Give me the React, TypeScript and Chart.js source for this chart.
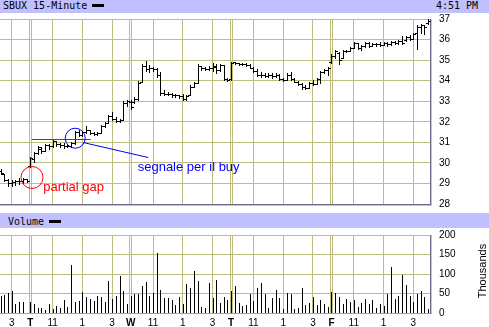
import React, { useEffect, useRef } from 'react';
import { Chart, registerables } from 'chart.js';

Chart.register(...registerables);

// ---------------- data ----------------
// 15-minute bars, [open, high, low, close]; Monday starts at its 14:15 bar
const mondayBars = [
  [29.6, 29.72, 29.45, 29.5], [29.45, 29.48, 29.1, 29.15], [29.15, 29.22, 28.9, 29.0], [29.0, 29.15, 28.88, 29.05],
  [29.05, 29.18, 28.92, 29.1], [29.1, 29.25, 28.98, 29.1], [29.1, 29.28, 29.0, 29.2], [29.2, 29.22, 29.05, 29.12],
];
const tuesdayBars = [
  [29.85, 30.3, 29.82, 30.25], [30.2, 30.55, 30.05, 30.5], [30.5, 30.8, 30.45, 30.75], [30.7, 30.78, 30.5, 30.6],
  [30.6, 30.92, 30.58, 30.85], [30.85, 30.9, 30.7, 30.8], [30.8, 31.15, 30.78, 31.05], [31.05, 31.08, 30.82, 30.9],
  [30.9, 30.95, 30.78, 30.85], [30.85, 30.95, 30.72, 30.8], [30.8, 30.92, 30.75, 30.8], [30.8, 31.0, 30.75, 30.95],
  [30.95, 31.55, 30.9, 31.5], [31.5, 31.6, 31.3, 31.35], [31.35, 31.55, 31.3, 31.5], [31.5, 31.78, 31.45, 31.6],
  [31.6, 31.62, 31.42, 31.45], [31.45, 31.52, 31.38, 31.4], [31.4, 31.48, 31.38, 31.45], [31.45, 31.85, 31.45, 31.8],
  [31.8, 32.0, 31.75, 31.95], [31.95, 32.35, 31.92, 32.3], [32.3, 32.5, 32.1, 32.15], [32.15, 32.22, 32.0, 32.05],
  [32.05, 32.15, 31.98, 32.1], [32.1, 33.0, 32.1, 32.9], [32.9, 33.08, 32.75, 33.0],
];
const wednesdayBars = [
  [32.95, 33.08, 32.6, 32.7], [32.95, 33.2, 32.9, 33.1], [33.1, 34.0, 33.05, 33.9], [33.95, 34.8, 33.95, 34.7],
  [34.7, 34.95, 34.45, 34.55], [34.55, 34.78, 34.4, 34.6], [34.6, 34.68, 34.48, 34.55], [34.55, 34.62, 34.2, 34.3],
  [34.3, 34.4, 33.3, 33.4], [33.4, 33.55, 33.3, 33.35], [33.35, 33.45, 33.3, 33.35], [33.35, 33.4, 33.22, 33.3],
  [33.3, 33.35, 33.2, 33.28], [33.28, 33.32, 33.15, 33.25], [33.25, 33.35, 33.05, 33.1], [33.1, 33.3, 33.05, 33.25],
  [33.3, 33.8, 33.3, 33.7], [33.7, 33.95, 33.7, 33.9], [33.9, 34.8, 33.88, 34.7], [34.7, 34.72, 34.5, 34.6],
  [34.6, 34.65, 34.52, 34.55], [34.55, 34.7, 34.5, 34.6], [34.6, 34.85, 34.45, 34.7], [34.65, 34.8, 34.38, 34.5],
  [34.5, 34.82, 34.45, 34.75], [34.75, 34.78, 34.05, 34.1], [34.1, 34.12, 34.0, 34.05],
];
const thursdayBars = [
  [34.1, 34.92, 34.05, 34.88], [34.9, 34.92, 34.8, 34.85], [34.85, 34.88, 34.75, 34.8], [34.8, 34.88, 34.75, 34.82],
  [34.82, 34.85, 34.7, 34.75], [34.75, 34.8, 34.6, 34.62], [34.62, 34.65, 34.42, 34.45], [34.45, 34.55, 34.25, 34.3],
  [34.3, 34.4, 34.2, 34.28], [34.28, 34.35, 34.2, 34.25], [34.25, 34.35, 34.2, 34.3], [34.3, 34.35, 34.15, 34.22],
  [34.22, 34.35, 34.2, 34.28], [34.28, 34.32, 34.05, 34.1], [34.1, 34.15, 34.0, 34.05], [34.05, 34.38, 34.02, 34.3],
  [34.3, 34.4, 34.05, 34.1], [34.1, 34.12, 33.92, 33.95], [33.95, 33.98, 33.8, 33.85], [33.85, 33.88, 33.6, 33.7],
  [33.7, 33.8, 33.6, 33.65], [33.65, 33.95, 33.62, 33.9], [33.9, 34.02, 33.8, 33.85], [33.85, 34.15, 33.82, 34.1],
  [34.1, 34.45, 33.9, 34.4], [34.4, 34.58, 34.38, 34.5], [34.5, 34.68, 34.3, 34.6],
];
const fridayBars = [
  [34.9, 35.28, 34.85, 35.2], [35.2, 35.5, 35.1, 35.45], [35.35, 35.38, 34.8, 35.0], [35.1, 35.5, 35.08, 35.45],
  [35.45, 35.5, 35.4, 35.45], [35.45, 35.65, 35.45, 35.6], [35.6, 35.9, 35.6, 35.85], [35.85, 35.85, 35.55, 35.6],
  [35.6, 35.75, 35.5, 35.7], [35.7, 35.9, 35.65, 35.85], [35.85, 35.88, 35.65, 35.7], [35.7, 35.82, 35.7, 35.78],
  [35.78, 35.85, 35.7, 35.8], [35.8, 35.86, 35.7, 35.75], [35.75, 35.9, 35.75, 35.85], [35.85, 35.86, 35.7, 35.78],
  [35.78, 35.95, 35.75, 35.9], [35.9, 35.95, 35.8, 35.85], [35.85, 36.0, 35.8, 35.95], [35.95, 36.15, 35.8, 35.85],
  [36.0, 36.15, 35.95, 36.1], [36.1, 36.2, 36.0, 36.05], [36.05, 36.3, 36.05, 36.25], [36.3, 36.72, 35.55, 36.6],
  [36.6, 36.75, 36.3, 36.7], [36.7, 36.72, 36.28, 36.6], [36.8, 37.0, 36.78, 36.92],
];

// volume, thousands of shares
const mondayVolume = [44, 45, 51, 57, 22, 28, 28, 0];
const tuesdayVolume = [28, 22, 12, 12, 7, 22, 9, 17, 12, 33, 15, 123, 28, 30, 53, 41, 35, 30, 43, 41, 28, 82, 35, 43, 95, 56, 22];
const wednesdayVolume = [43, 48, 48, 69, 80, 43, 51, 155, 59, 38, 38, 33, 20, 41, 22, 74, 64, 108, 82, 15, 12, 77, 38, 85, 25, 41, 33];
const thursdayVolume = [56, 69, 25, 17, 20, 48, 31, 64, 77, 48, 12, 38, 59, 38, 10, 51, 48, 10, 12, 64, 20, 25, 41, 20, 33, 22, 15];
const fridayVolume = [54, 51, 41, 22, 35, 28, 33, 15, 25, 35, 22, 33, 12, 22, 17, 48, 119, 35, 43, 98, 72, 43, 28, 48, 56, 41, 10];

// time axis: 27 fifteen-minute slots per session, slot 0 = Monday 9:30
const firstBarSlot = 19;
const sessionLetters = ['M', 'T', 'W', 'T', 'F'];
const sessionFirstSlots = [0, 27, 54, 81, 108];
const hourLabels = ['11', '1', '3'];
const hourSlotOffsets = [6, 14, 22];
const xMin = 18.85;
const xMax = 134.49;

const priceMin = 28;
const priceMax = 37;
const priceStep = 1;
const volumeMin = 0;
const volumeMax = 200;
const volumeStep = 50;

// annotations (data coordinates: slot, price)
const gapCircle = { slot: 27.46, price: 29.29 };
const resistanceLine = { fromSlot: 27.38, toSlot: 43.25, price: 31.17 };
const signalCircle = { slot: 39.08, price: 31.2 };
const signalPointer = { fromSlot: 41.25, fromPrice: 30.99, toSlot: 58.74, toPrice: 30.26 };
const gapLabel = { text: 'partial gap', slot: 30.5, price: 28.83 };
const signalLabel = { text: 'segnale per il buy', slot: 55.88, price: 29.76 };

// ---------------- styles ----------------
const FONT = "'Liberation Sans', Arial, sans-serif";
const MONO = "'DejaVu Sans Mono', monospace";
const GRID = '#bdbd80';
const FRAME = '#6a6a8c';
const LAVENDER = '#c0c0ff';
const VOL_BASE = '#9a9ae0';
const RED = '#ff0000';
const BLUE = '#0000ff';

const allBars = [...mondayBars, ...tuesdayBars, ...wednesdayBars, ...thursdayBars, ...fridayBars];
const allVolume = [...mondayVolume, ...tuesdayVolume, ...wednesdayVolume, ...thursdayVolume, ...fridayVolume];

type TickDef = { value: number; label: string; grid: boolean; bold: boolean };
const tickDefs: TickDef[] = [];
sessionFirstSlots.forEach((s, d) => {
  if (d > 0) {
    tickDefs.push({ value: s - 0.27, label: '', grid: true, bold: false });
    tickDefs.push({ value: s, label: sessionLetters[d], grid: false, bold: true });
    tickDefs.push({ value: s + 0.27, label: '', grid: true, bold: false });
  }
  hourSlotOffsets.forEach((o, h) => {
    const v = s + o;
    if (v >= xMin && v <= xMax) tickDefs.push({ value: v, label: hourLabels[h], grid: true, bold: false });
  });
});
tickDefs.sort((a, b) => a.value - b.value);

const crispBars = {
  id: 'crispBars',
  beforeDatasetDraw(chart: any, args: any) {
    const ds = chart.data.datasets[args.index];
    if (!ds.drawKind) return;
    const ctx = chart.ctx;
    const xs = chart.scales.x;
    const ys = chart.scales.y;
    ctx.save();
    ctx.fillStyle = ds.backgroundColor;
    ds.data.forEach((d: any) => {
      const x = Math.round(xs.getPixelForValue(d.x));
      if (ds.drawKind === 'ohlc') {
        const yh = Math.round(ys.getPixelForValue(d.y[1]));
        const yl = Math.round(ys.getPixelForValue(d.y[0]));
        ctx.fillRect(x, yh, 1, Math.max(1, yl - yh + 1));
        ctx.fillRect(x - 2, Math.round(ys.getPixelForValue(d.o)), 2, 1);
        ctx.fillRect(x + 1, Math.round(ys.getPixelForValue(d.c)), 2, 1);
      } else {
        if (!d.y) return;
        const yt = Math.round(ys.getPixelForValue(d.y));
        const yb = Math.round(ys.getPixelForValue(0));
        ctx.fillRect(x, yt, 1, yb - yt);
      }
    });
    ctx.restore();
    return false;
  },
};

const annotations = {
  id: 'annotations',
  afterDatasetsDraw(chart: any) {
    const ctx = chart.ctx;
    const xs = chart.scales.x;
    const ys = chart.scales.y;
    const px = (v: number) => xs.getPixelForValue(v);
    const py = (v: number) => ys.getPixelForValue(v);
    ctx.save();
    ctx.lineWidth = 1;
    ctx.strokeStyle = RED;
    const ry = Math.round(py(resistanceLine.price)) + 0.5;
    ctx.beginPath();
    ctx.moveTo(px(resistanceLine.fromSlot), ry);
    ctx.lineTo(px(resistanceLine.toSlot), ry);
    ctx.stroke();
    ctx.beginPath();
    ctx.arc(px(gapCircle.slot), py(gapCircle.price), 11, 0, Math.PI * 2);
    ctx.stroke();
    ctx.strokeStyle = BLUE;
    ctx.beginPath();
    ctx.arc(px(signalCircle.slot), py(signalCircle.price), 10, 0, Math.PI * 2);
    ctx.stroke();
    ctx.beginPath();
    ctx.moveTo(px(signalPointer.fromSlot), py(signalPointer.fromPrice));
    ctx.lineTo(px(signalPointer.toSlot), py(signalPointer.toPrice));
    ctx.stroke();
    ctx.font = `13px ${FONT}`;
    ctx.textAlign = 'left';
    ctx.textBaseline = 'middle';
    ctx.fillStyle = RED;
    ctx.fillText(gapLabel.text, px(gapLabel.slot), py(gapLabel.price));
    ctx.fillStyle = BLUE;
    ctx.fillText(signalLabel.text, px(signalLabel.slot), py(signalLabel.price));
    ctx.restore();
  },
};

function timeAxis(showLabels: boolean, borderColor: string, height: number): any {
  return {
    type: 'linear',
    min: xMin,
    max: xMax,
    offset: false,
    afterBuildTicks: (scale: any) => {
      scale.ticks = tickDefs.map((t) => ({ value: t.value }));
    },
    afterFit: (scale: any) => {
      scale.height = height;
      scale.paddingLeft = 0;
      scale.paddingRight = 0;
    },
    grid: {
      offset: false,
      drawTicks: false,
      lineWidth: 1,
      color: (c: any) => (tickDefs[c.index] && tickDefs[c.index].grid ? GRID : 'rgba(0,0,0,0)'),
    },
    border: { display: true, color: borderColor, width: 1 },
    ticks: {
      display: showLabels,
      autoSkip: false,
      maxRotation: 0,
      minRotation: 0,
      padding: 4,
      color: '#000',
      font: (c: any) => ({
        family: FONT,
        size: 10,
        weight: tickDefs[c.index] && tickDefs[c.index].bold ? 'bold' : 'normal',
      }),
      callback: (_v: any, i: number) => (tickDefs[i] ? tickDefs[i].label : ''),
    },
  };
}

function valueAxis(min: number, max: number, step: number): any {
  return {
    type: 'linear',
    position: 'right',
    min,
    max,
    afterFit: (scale: any) => {
      scale.width = 59;
      scale.paddingTop = 0;
      scale.paddingBottom = 0;
    },
    grid: { color: GRID, drawTicks: false, lineWidth: 1 },
    border: { display: true, color: FRAME, width: 1 },
    ticks: { stepSize: step, padding: 9, color: '#000', font: { family: FONT, size: 10 } },
  };
}

export default function App() {
  const priceRef = useRef<HTMLCanvasElement>(null);
  const volumeRef = useRef<HTMLCanvasElement>(null);

  useEffect(() => {
    document.body.style.margin = '0';
    const priceChart = new Chart(priceRef.current as HTMLCanvasElement, {
      type: 'bar',
      data: {
        datasets: [
          {
            label: 'SBUX',
            drawKind: 'ohlc',
            backgroundColor: '#000',
            barThickness: 1,
            data: allBars.map((b, i) => ({ x: firstBarSlot + i, y: [b[2], b[1]], o: b[0], c: b[3] })),
          } as any,
        ],
      },
      options: {
        animation: false,
        responsive: false,
        devicePixelRatio: 1,
        events: [],
        layout: { padding: { top: 6, bottom: 6, left: 0, right: 0 } },
        plugins: { legend: { display: false }, tooltip: { enabled: false } },
        scales: {
          x: timeAxis(false, FRAME, 0),
          y: valueAxis(priceMin, priceMax, priceStep),
        },
      },
      plugins: [crispBars, annotations],
    });

    const volumeChart = new Chart(volumeRef.current as HTMLCanvasElement, {
      type: 'bar',
      data: {
        datasets: [
          {
            label: 'Volume',
            drawKind: 'volume',
            backgroundColor: '#000',
            barThickness: 1,
            data: allVolume.map((v, i) => ({ x: firstBarSlot + i, y: v })),
          } as any,
        ],
      },
      options: {
        animation: false,
        responsive: false,
        devicePixelRatio: 1,
        events: [],
        layout: { padding: { top: 7, bottom: 0, left: 0, right: 0 } },
        plugins: { legend: { display: false }, tooltip: { enabled: false } },
        scales: {
          x: timeAxis(true, VOL_BASE, 14),
          y: valueAxis(volumeMin, volumeMax, volumeStep),
        },
      },
      plugins: [crispBars],
    });

    return () => {
      priceChart.destroy();
      volumeChart.destroy();
    };
  }, []);

  const mono: React.CSSProperties = {
    position: 'absolute',
    fontFamily: MONO,
    fontSize: 10,
    lineHeight: '10px',
    color: '#000',
    whiteSpace: 'nowrap',
  };

  return (
    <div
      style={{
        position: 'fixed',
        left: 0,
        top: 0,
        width: 489,
        height: 327,
        background: '#fff',
        overflow: 'hidden',
      }}
    >
      <div style={{ position: 'absolute', left: 0, top: 0, width: 489, height: 13, background: LAVENDER }} />
      <span style={{ ...mono, left: 3, top: 1 }}>SBUX 15-Minute</span>
      <div style={{ position: 'absolute', left: 92, top: 4, width: 12, height: 3, background: '#000' }} />
      <span style={{ ...mono, left: 436, top: 1 }}>4:51 PM</span>

      <canvas
        ref={priceRef}
        width={489}
        height={197}
        style={{ position: 'absolute', left: 0, top: 13, width: 489, height: 197 }}
      />
      <div style={{ position: 'absolute', left: 431, top: 19, width: 1, height: 187, background: LAVENDER }} />
      <div style={{ position: 'absolute', left: 0, top: 205, width: 432, height: 1, background: LAVENDER }} />

      <div style={{ position: 'absolute', left: 0, top: 213, width: 489, height: 15, background: LAVENDER }} />
      <span style={{ ...mono, left: 8, top: 217 }}>Volume</span>
      <div style={{ position: 'absolute', left: 49, top: 220, width: 12, height: 3, background: '#000' }} />

      <canvas
        ref={volumeRef}
        width={489}
        height={99}
        style={{ position: 'absolute', left: 0, top: 228, width: 489, height: 99 }}
      />
      <div style={{ position: 'absolute', left: 431, top: 235, width: 1, height: 79, background: LAVENDER }} />
      <span
        style={{
          position: 'absolute',
          left: 481.5,
          top: 271,
          transform: 'translate(-50%, -50%) rotate(-90deg)',
          fontFamily: FONT,
          fontSize: 11,
          lineHeight: '11px',
          whiteSpace: 'nowrap',
          color: '#000',
        }}
      >
        Thousands
      </span>
    </div>
  );
}
